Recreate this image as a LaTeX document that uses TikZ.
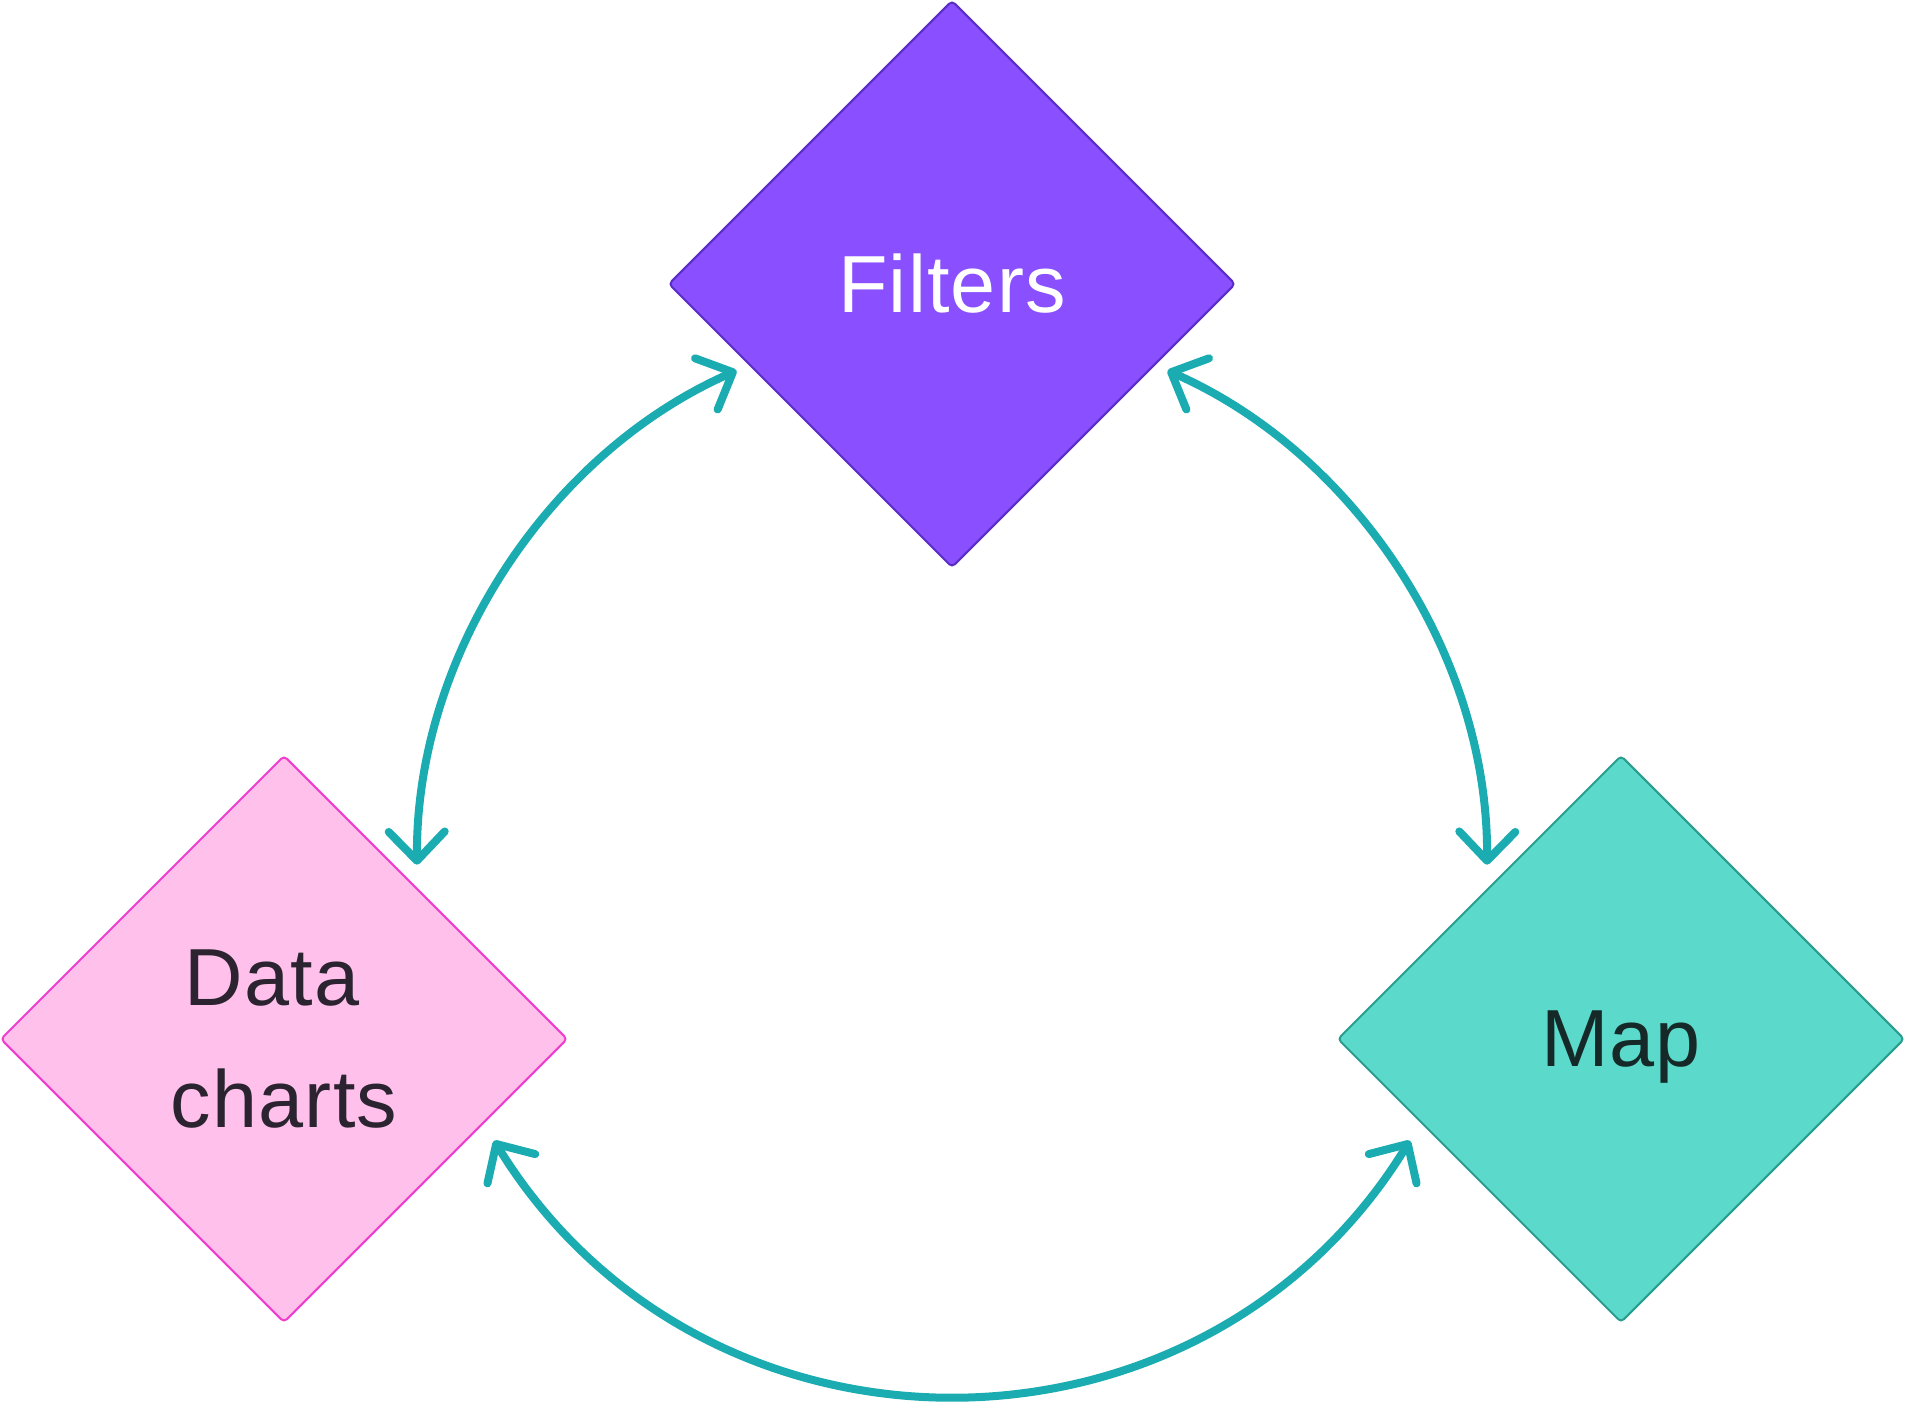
\documentclass[tikz,border=0pt]{standalone}
\usepackage{fontspec}
\setmainfont{Liberation Sans}[LetterSpace=1.5]
\usetikzlibrary{shapes.geometric,arrows.meta}
\definecolor{filtfill}{HTML}{8A4FFF}
\definecolor{filtline}{HTML}{5A2DC6}
\definecolor{datafill}{HTML}{FFC0EC}
\definecolor{dataline}{HTML}{F03ECF}
\definecolor{mapfill}{HTML}{5BD9CA}
\definecolor{mapline}{HTML}{2A9D8F}
\definecolor{arrowc}{HTML}{1AACB0}
\definecolor{darktext}{HTML}{2B2430}
\definecolor{maptext}{HTML}{152A28}
\begin{document}
\begin{tikzpicture}[x=1pt,y=1pt,
  box/.style={diamond, minimum width=567pt, minimum height=567pt, inner sep=0pt,
    line width=2pt, rounded corners=4pt, align=center,
    font=\fontsize{81}{121.5}\selectfont},
  conn/.style={draw=arrowc, line width=8pt, line cap=round, line join=round,
    {Straight Barb[length=29pt,width=56pt,line cap=round,line join=round]}-{Straight Barb[length=29pt,width=56pt,line cap=round,line join=round]}}]
\useasboundingbox (0,0) rectangle (1905,1401);
\node[box, fill=filtfill, draw=filtline, text=white] (filters) at (952,1117) {Filters};
\node[box, fill=datafill, draw=dataline, text=darktext] (data) at (284,362) {Data\kern24pt\\charts};
\node[box, fill=mapfill, draw=mapline, text=maptext, text depth=0pt] (map) at (1621,362) {Map};
\coordinate (A1) at (736.5,1030.4);
\coordinate (A2) at (417.0,536.3);
\coordinate (B1) at (1167.5,1030.4);
\coordinate (B2) at (1487.0,536.3);
\coordinate (C1) at (494.1,260.4);
\coordinate (C2) at (1409.9,260.4);
\draw[conn] (A1) to[out=203.8, in=90.5, looseness=0.9] (A2);
\draw[conn] (B1) to[out=-23.8, in=89.5, looseness=0.9] (B2);
\draw[conn] (C1) to[out=301.5, in=238.5, looseness=1.1185] (C2);
\end{tikzpicture}
\end{document}
